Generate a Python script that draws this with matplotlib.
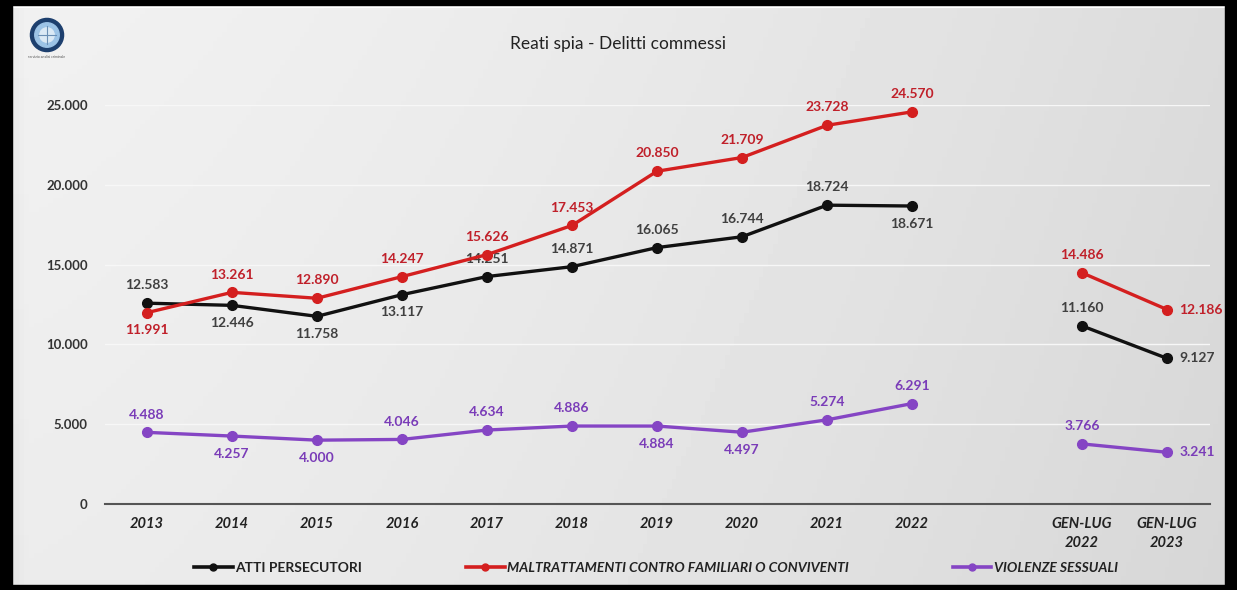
import numpy as np
import matplotlib
matplotlib.use("Agg")
import matplotlib.pyplot as plt
from matplotlib.patches import Rectangle, Circle
from matplotlib.lines import Line2D

plt.rcParams['font.family'] = ['Lato', 'DejaVu Sans']

categories = ["2013", "2014", "2015", "2016", "2017", "2018", "2019", "2020", "2021", "2022",
              "", "GEN-LUG\n2022", "GEN-LUG\n2023"]
atti = [12583, 12446, 11758, 13117, 14251, 14871, 16065, 16744, 18724, 18671, None, 11160, 9127]
maltr = [11991, 13261, 12890, 14247, 15626, 17453, 20850, 21709, 23728, 24570, None, 14486, 12186]
viol = [4488, 4257, 4000, 4046, 4634, 4886, 4884, 4497, 5274, 6291, None, 3766, 3241]

# label placement: 'a' above, 'b' below, 'r' right
atti_pos = ['a', 'b', 'b', 'b', 'a', 'a', 'a', 'a', 'a', 'b', None, 'a', 'r']
maltr_pos = ['b', 'a', 'a', 'a', 'a', 'a', 'a', 'a', 'a', 'a', None, 'a', 'r']
viol_pos = ['a', 'b', 'b', 'a', 'a', 'a', 'b', 'b', 'a', 'a', None, 'a', 'r']

series = [
    ("ATTI PERSECUTORI", atti, atti_pos, "#111111", "#404040", "normal"),
    ("MALTRATTAMENTI CONTRO FAMILIARI O CONVIVENTI", maltr, maltr_pos, "#d41f1f", "#c0202a", "italic"),
    ("VIOLENZE SESSUALI", viol, viol_pos, "#8545c4", "#7a3cb8", "italic"),
]

W, H = 1237, 590
fig = plt.figure(figsize=(W / 100, H / 100), dpi=100)

# background gradient
bg = fig.add_axes([0, 0, 1, 1], zorder=-10)
grad = np.linspace(0, 1, 256)
xx, yy = np.meshgrid(grad, np.linspace(0, 1, 128))
val = 0.945 - 0.085 * xx ** 1.5 - 0.02 * (1 - yy)
val = np.where(xx < 0.02, val - 0.04 * (1 - xx / 0.02), val)
bg.imshow(val, cmap="gray", vmin=0, vmax=1, extent=[0, 1, 0, 1], aspect="auto", origin="lower")
bg.set_xlim(0, 1)
bg.set_ylim(0, 1)
bg.axis("off")
# black frame
for (x0, y0, w, h) in [(0, 0, 12 / W, 1), (0, 1 - 5 / H, 1, 5 / H), (1 - 12 / W, 0, 12 / W, 1), (0, 0, 1, 5 / H)]:
    bg.add_patch(Rectangle((x0, y0), w, h, color="black", transform=bg.transAxes, zorder=5))
bg.plot([12 / W, 1 - 12 / W], [1 - 7 / H, 1 - 7 / H], color="white", lw=1.5, transform=bg.transAxes, zorder=4)

# logo (square pixel axes)
lg = fig.add_axes([29 / W, 1 - 53 / H, 36 / W, 36 / H])
lg.set_xlim(-1, 1)
lg.set_ylim(-1, 1)
lg.axis("off")
lg.add_patch(Circle((0, 0), 0.92, color="#1d3f6e"))
lg.add_patch(Circle((0, 0), 0.68, color="#9cc3e6"))
lg.add_patch(Circle((0, 0), 0.40, color="#dbe9f5"))
lg.plot([-0.5, 0.5], [0, 0], color="#6b8fb5", lw=0.8)
lg.plot([0, 0], [-0.5, 0.5], color="#6b8fb5", lw=0.8)
bg.text(47 / W, 1 - 57 / H, "servizio analisi criminale", fontsize=2.5, color="#555555",
        ha="center", va="center", transform=bg.transAxes)

ax = fig.add_axes([104.5 / W, 86 / H, 1105 / W, 399 / H])
ax.set_facecolor("none")
x = np.arange(len(categories))

for name, vals, pos, lc, tc, style in series:
    ys = np.array([np.nan if v is None else v for v in vals], dtype=float)
    ax.plot(x, ys, color=lc, lw=2.4, marker="o", ms=7, zorder=3, solid_capstyle="round")
    for xi, v, p in zip(x, vals, pos):
        if v is None:
            continue
        lab = f"{v:,}".replace(",", ".")
        if p == 'a':
            ax.annotate(lab, (xi, v), xytext=(0, 8.5), textcoords="offset points", ha="center",
                        va="bottom", fontsize=10, fontweight="bold", color=tc)
        elif p == 'b':
            ax.annotate(lab, (xi, v), xytext=(0, -8.5), textcoords="offset points", ha="center",
                        va="top", fontsize=10, fontweight="bold", color=tc)
        else:
            ax.annotate(lab, (xi, v), xytext=(9, 0), textcoords="offset points", ha="left",
                        va="center", fontsize=10, fontweight="bold", color=tc)

ax.set_xlim(-0.5, len(categories) - 0.5)
ax.set_ylim(0, 25000)
ax.set_yticks(np.arange(0, 25001, 5000))
ax.set_yticklabels([f"{v:,}".replace(",", ".") for v in np.arange(0, 25001, 5000)],
                   fontsize=9.5, fontweight="bold", color="#333333")
ax.set_xticks(x)
ax.set_xticklabels(categories, fontsize=10.5, fontweight="bold", fontstyle="italic",
                   color="#222222", va="top", linespacing=1.5)
ax.tick_params(axis="both", length=0, pad=12)
ax.tick_params(axis="x", pad=9)
ax.grid(axis="y", color="#f7f7f7", lw=1.0)
ax.set_axisbelow(True)
for s in ["top", "right", "left"]:
    ax.spines[s].set_visible(False)
ax.spines["bottom"].set_color("#555555")
ax.spines["bottom"].set_linewidth(1.5)

fig.text(0.5, 1 - 44 / H, "Reati spia - Delitti commessi", ha="center", va="center",
         fontsize=12.5, color="#222222")

handles = [Line2D([0], [0], color=lc, lw=2.6, marker="o", ms=5) for _, _, _, lc, _, _ in series]
leg = fig.legend(handles, [s[0] for s in series], loc="center", bbox_to_anchor=(0.53, 1 - 568 / H),
                 ncol=3, frameon=False, handlelength=2.8, handletextpad=0.15, columnspacing=7.5,
                 prop={"size": 10, "weight": "bold"})
for t, s in zip(leg.get_texts(), series):
    t.set_fontstyle(s[5])
    t.set_color("#222222")

fig.savefig("out.png", dpi=100)
